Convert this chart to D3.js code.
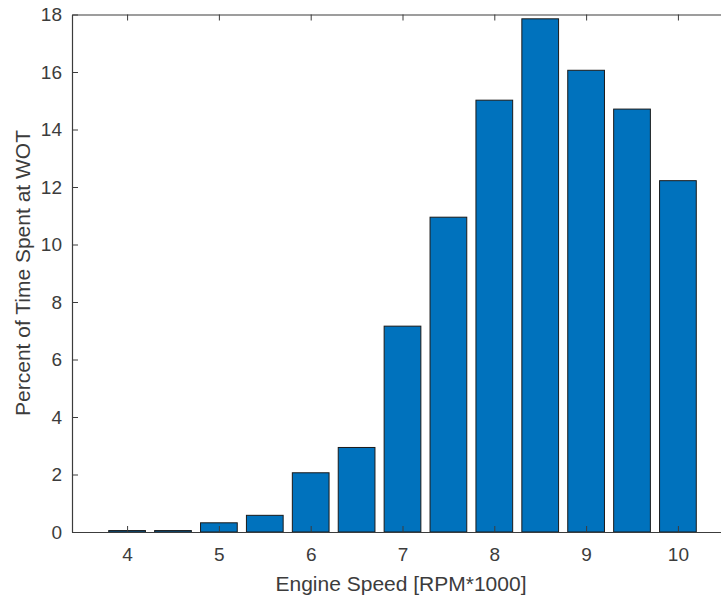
<!DOCTYPE html>
<html>
<head>
<meta charset="utf-8">
<script src="https://cdn.jsdelivr.net/npm/d3@7"></script>
<style>
  html, body { margin: 0; padding: 0; background: #fff; }
  svg { display: block; }
  text { font-family: "Liberation Sans", Arial, Helvetica, sans-serif; }
</style>
</head>
<body>
<svg id="chart" width="721" height="600"></svg>
<script>
// Engine speed bins (thousands of RPM) and share of wide-open-throttle time (%)
const rpm = [4, 4.5, 5, 5.5, 6, 6.5, 7, 7.5, 8, 8.5, 9, 9.5, 10];
const percentWOT = [0.05, 0.05, 0.32, 0.58, 2.06, 2.94, 7.16, 10.95, 15.02, 17.85, 16.06, 14.71, 12.22];
const xTicks = [4, 5, 6, 7, 8, 9, 10];
const yTicks = [0, 2, 4, 6, 8, 10, 12, 14, 16, 18];

const svg = d3.select("#chart");
const plotLeft = 72, plotRight = 733, plotTop = 14.5, plotBottom = 532;
const axisColor = "#3c3c3c";

const x = d3.scaleLinear().domain([3.4, 10.6]).range([plotLeft, plotRight]);
const y = d3.scaleLinear().domain([0, 18]).range([plotBottom, plotTop]);
// bars fill 80% of the 500 RPM bin spacing
const barW = x(4.4) - x(4);

// bars
svg.append("g").selectAll("rect")
  .data(rpm.map((r, i) => ({ r, v: percentWOT[i] })))
  .join("rect")
  .attr("x", d => x(d.r) - barW / 2)
  .attr("y", d => y(d.v))
  .attr("width", barW)
  .attr("height", d => y(0) - y(d.v))
  .attr("fill", "#0072BD")
  .attr("stroke", "#1a1a1a")
  .attr("stroke-width", 1);

function styleAxis(g) {
  g.selectAll(".domain").attr("stroke", axisColor).attr("stroke-width", 1.2);
  g.selectAll(".tick line").attr("stroke", axisColor);
  g.selectAll(".tick text").attr("fill", axisColor).style("font-size", "19px");
}

// bottom axis
svg.append("g")
  .attr("transform", `translate(0,${plotBottom})`)
  .call(d3.axisBottom(x).tickValues(xTicks).tickSize(-6).tickSizeOuter(0).tickPadding(16).tickFormat(d3.format("d")))
  .call(styleAxis);

// top axis (box edge, ticks only)
svg.append("g")
  .attr("transform", `translate(0,${plotTop})`)
  .call(d3.axisTop(x).tickValues(xTicks).tickSize(-6).tickSizeOuter(0).tickFormat(""))
  .call(styleAxis);

// left axis
svg.append("g")
  .attr("transform", `translate(${plotLeft},0)`)
  .call(d3.axisLeft(y).tickValues(yTicks).tickSize(-6).tickSizeOuter(0).tickPadding(10).tickFormat(d3.format("d")))
  .call(styleAxis);

// axis titles
svg.append("text")
  .attr("x", 401)
  .attr("y", 591)
  .attr("text-anchor", "middle")
  .attr("fill", axisColor)
  .style("font-size", "21px")
  .text("Engine Speed [RPM*1000]");

svg.append("text")
  .attr("transform", `translate(30,273) rotate(-90)`)
  .attr("text-anchor", "middle")
  .attr("fill", axisColor)
  .style("font-size", "21px")
  .text("Percent of Time Spent at WOT");
</script>
</body>
</html>
